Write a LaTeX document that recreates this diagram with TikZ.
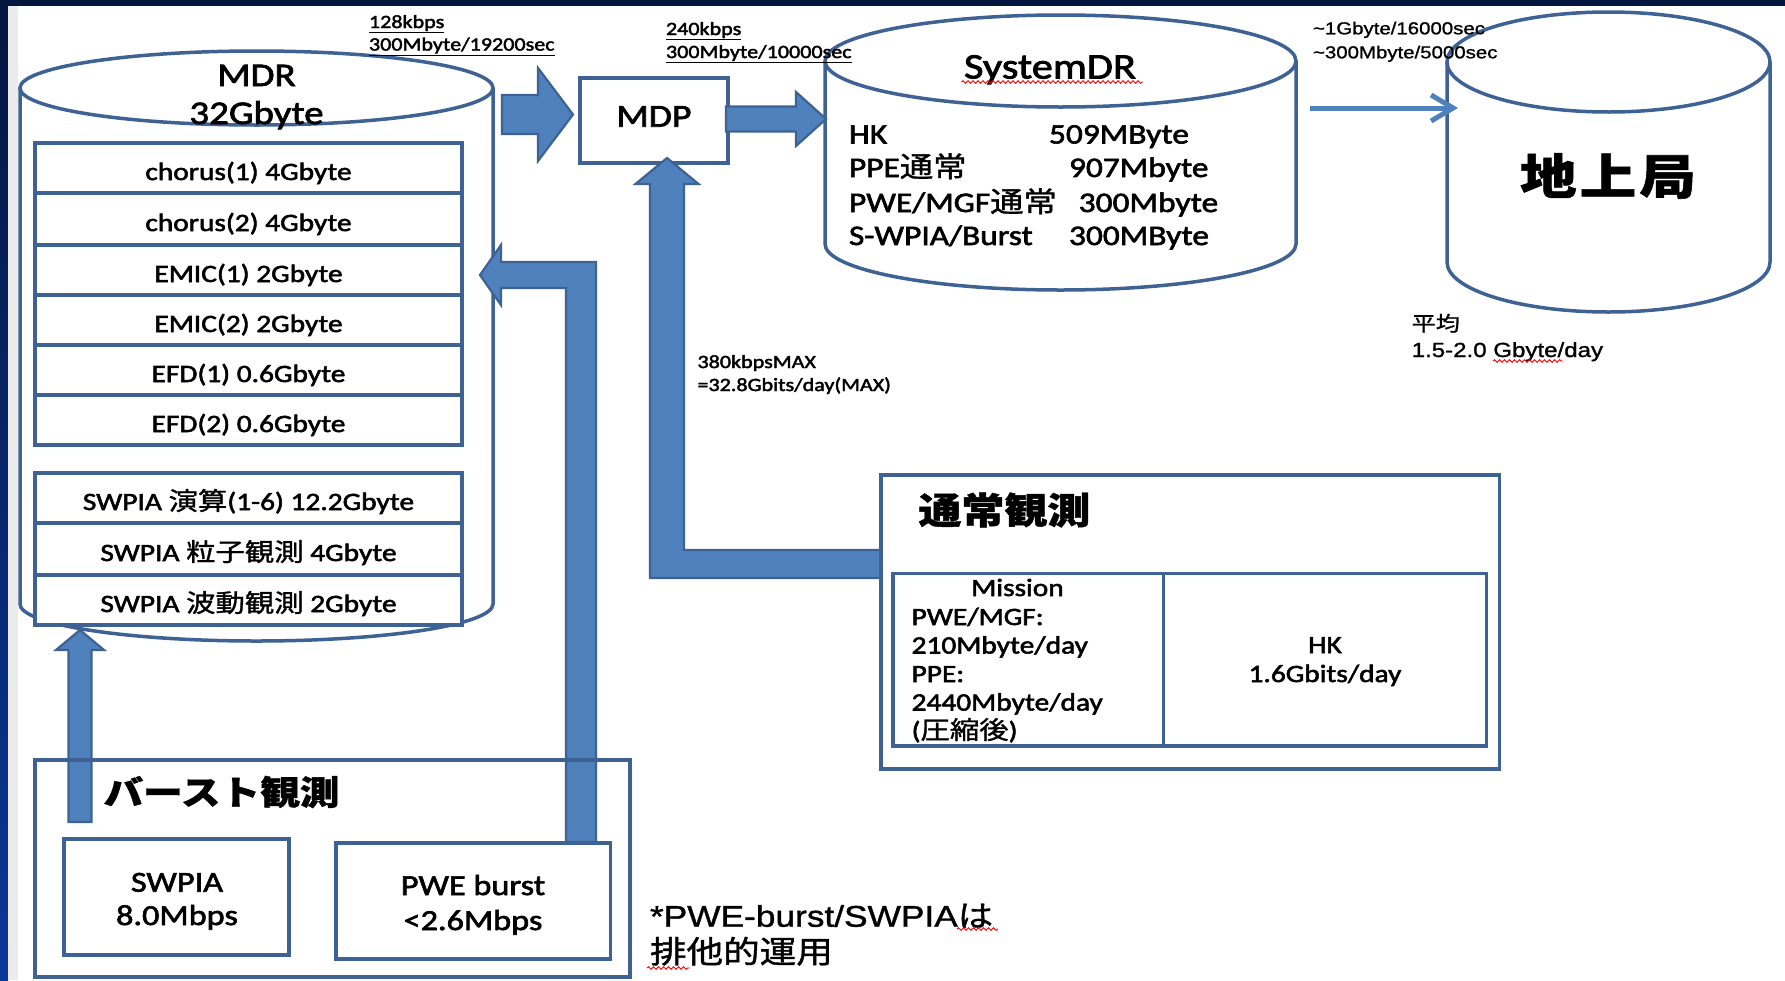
\documentclass[tikz,border=0pt]{standalone}
\usepackage{fontspec}
\setmainfont[FakeStretch=1.18, RawFeature={embolden=2.2}]{Carlito}
\newfontfamily\jp[FakeStretch=1.18, RawFeature={embolden=1.2}]{Noto Sans CJK JP}
\newfontfamily\ls[FakeStretch=1.18, RawFeature={embolden=1.2}]{Liberation Sans}
\usetikzlibrary{calc,arrows.meta,decorations.pathmorphing}
\definecolor{ln}{HTML}{3D6293}
\definecolor{af}{HTML}{4F81BD}
\definecolor{navy}{HTML}{03163F}
\definecolor{lblue}{HTML}{0B3798}
\definecolor{edgegray}{HTML}{EBEBEB}
\newcommand\fz[1]{\fontsize{#1}{#1}\selectfont}
\begin{document}
\begin{tikzpicture}[x=1pt,y=-1pt,
  cyl/.style={draw=ln, line width=3.5pt},
  box/.style={draw=ln, line width=3.5pt, fill=white, inner sep=0pt, outer sep=0pt},
  barrow/.style={fill=af, draw=ln, line width=2.2pt, line join=miter},
  txt/.style={inner sep=0pt, outer sep=0pt, text=black},
  rowtxt/.style={font=\fz{24.9}, text height=24pt, text depth=0pt},
  squig/.style={draw=red, line width=0.9pt, decorate, decoration={snake, amplitude=1.3pt, segment length=5pt}},
]
\useasboundingbox (0,0) rectangle (1785,980);
% frame
\fill[white] (0,0) rectangle (1785,980);
\fill[navy] (0,0) rectangle (1785,6);
\shade[top color=navy, bottom color=lblue] (0,6) rectangle (8,980);
\fill[edgegray] (8,6) rectangle (18,980);

% MDR cylinder
\draw[cyl] (20,88) -- (20,604) arc[start angle=180, end angle=360, x radius=236.5pt, y radius=37pt] -- (493,88);
\draw[cyl, fill=white] (256.5,88) ellipse [x radius=236.5pt, y radius=37pt];
\node[txt, anchor=base, font=\fz{33}] (mdrname) at (256.5,86) {MDR};
\node[txt, anchor=base, font=\fz{33}] (mdrsize) at (256.5,124) {32Gbyte};

% MDR rows
\node[box, rowtxt, minimum width=427pt, minimum height=50pt] (r1) at (248.5,168) {chorus(1) 4Gbyte};
\node[box, rowtxt, minimum width=427pt, minimum height=51pt] (r2) at (248.5,219) {chorus(2) 4Gbyte};
\node[box, rowtxt, minimum width=427pt, minimum height=50pt] (r3) at (248.5,270) {EMIC(1) 2Gbyte};
\node[box, rowtxt, minimum width=427pt, minimum height=50pt] (r4) at (248.5,320) {EMIC(2) 2Gbyte};
\node[box, rowtxt, minimum width=427pt, minimum height=50pt] (r5) at (248.5,370) {EFD(1) 0.6Gbyte};
\node[box, rowtxt, minimum width=427pt, minimum height=50pt] (r6) at (248.5,420) {EFD(2) 0.6Gbyte};
\node[box, rowtxt, minimum width=427pt, minimum height=50pt] (r7) at (248.5,498) {SWPIA {\jp 演算}(1-6) 12.2Gbyte};
\node[box, rowtxt, minimum width=427pt, minimum height=51pt] (r8) at (248.5,549) {SWPIA {\jp 粒子観測} 4Gbyte};
\node[box, rowtxt, minimum width=427pt, minimum height=50pt] (r9) at (248.5,600) {SWPIA {\jp 波動観測} 2Gbyte};

% SystemDR cylinder
\draw[cyl] (825,61) -- (825,244) arc[start angle=180, end angle=360, x radius=235.5pt, y radius=46pt] -- (1296,61);
\draw[cyl, fill=white] (1060.5,61) ellipse [x radius=235.5pt, y radius=46pt];
\node[txt, anchor=base, font=\fz{36}] (sdrname) at (1050,78.5) {SystemDR};
\node[txt, anchor=base west, font=\fz{28.3}] (sd1a) at (849,143.5) {HK};
\node[txt, anchor=base west, font=\fz{28.3}] (sd1b) at (1049,143.5) {509MByte};
\node[txt, anchor=base west, font=\fz{28.3}] (sd2a) at (849,177) {PPE{\jp 通常}};
\node[txt, anchor=base west, font=\fz{28.3}] (sd2b) at (1069,177) {907Mbyte};
\node[txt, anchor=base west, font=\fz{28.3}] (sd3a) at (849,212) {PWE/MGF{\jp 通常}};
\node[txt, anchor=base west, font=\fz{28.3}] (sd3b) at (1078.7,212) {300Mbyte};
\node[txt, anchor=base west, font=\fz{28.3}] (sd4a) at (849,245) {S-WPIA/Burst};
\node[txt, anchor=base west, font=\fz{28.3}] (sd4b) at (1069,245) {300MByte};

% ground station cylinder
\draw[cyl] (1447,62) -- (1447,262) arc[start angle=180, end angle=360, x radius=161.5pt, y radius=50pt] -- (1770,62);
\draw[cyl, fill=white] (1608.5,62) ellipse [x radius=161.5pt, y radius=50pt];
\node[txt, font={\jp\bfseries\fz{48}}] (gs) at (1608,176) {地\kern3pt 上\kern3pt 局};

% MDP box
\node[box, font=\fz{32}, text height=12.4pt, text depth=0pt, minimum width=148pt, minimum height=85pt] (mdp) at (654,120.5) {MDP};

% burst box (fill)
\node[box, minimum width=595pt, minimum height=217pt] (burst) at (332.5,868.5) {};

% block arrows
\coordinate (a1s) at (502,114.5);
\draw[barrow] (a1s) ++(0,-19.5) -- ++(36,0) -- ++(0,-27) -- ++(35,46.5) -- ++(-35,46.5) -- ++(0,-27) -- ++(-36,0) -- cycle;
\coordinate (a2s) at (726,119);
\draw[barrow] (a2s) ++(0,-12.5) -- ++(70,0) -- ++(0,-14.5) -- ++(30,27) -- ++(-30,27) -- ++(0,-14.5) -- ++(-70,0) -- cycle;
\coordinate (a3s) at (881,564);
\draw[barrow] (a3s) ++(0,-14) -- ++(-197,0) -- ++(0,-366) -- ++(14.5,0) -- ++(-31.5,-26) -- ++(-31.5,26) -- ++(14.5,0) -- ++(0,394) -- ++(231,0) -- cycle;
\coordinate (a4s) at (581,842);
\draw[barrow] (a4s) ++(15,0) -- ++(0,-580) -- ++(-95,0) -- ++(0,-17) -- ++(-21,30) -- ++(21,30) -- ++(0,-17) -- ++(65,0) -- ++(0,554) -- cycle;
\coordinate (a5s) at (80,822);
\draw[barrow] (a5s) ++(-11.5,0) -- ++(0,-172) -- ++(-12.5,0) -- ++(24,-20) -- ++(24,20) -- ++(-12.5,0) -- ++(0,172) -- cycle;

% thin arrow SystemDR -> ground
\coordinate (sdrout) at (1310,108);
\coordinate (gsin) at (1458,108);
\draw[af, line width=5pt, -{Straight Barb[length=22pt, width=26pt]}] (sdrout) -- (gsin);

% burst box outline over arrows
\draw[ln, line width=3.5pt] (burst.north west) rectangle (burst.south east);
\node[txt, anchor=west, font={\jp\bfseries\fz{33.6}}] (bursttitle) at (103.6,792) {バースト観測};
\node[box, minimum width=225pt, minimum height=116pt] (swpia) at (176.5,897) {};
\node[box, minimum width=274.5pt, minimum height=116pt] (pweb) at (473,901) {};
\node[txt, anchor=base, font=\fz{29}] (swpia1) at (177,891.7) {SWPIA};
\node[txt, anchor=base, font=\fz{29}] (swpia2) at (177,925) {8.0Mbps};
\node[txt, anchor=base, font=\fz{29}] (pweb1) at (473,895) {PWE burst};
\node[txt, anchor=base, font=\fz{29}] (pweb2) at (473,930) {<2.6Mbps};

% normal observation box
\node[box, minimum width=618.5pt, minimum height=294pt] (tsu) at (1190.25,622) {};
\node[txt, anchor=west, font={\jp\bfseries\fz{36.4}}] (tsutitle) at (918.5,510) {通常観測};
\node[box, minimum width=270.5pt, minimum height=172.5pt] (mission) at (1028.25,659.75) {};
\node[box, minimum width=323pt, minimum height=172.5pt] (hkbox) at (1325,659.75) {};
\node[txt, anchor=base, font=\fz{24.9}] (m0) at (1017.5,596) {Mission};
\node[txt, anchor=base west, font=\fz{24.9}] (m1) at (911.6,625) {PWE/MGF:};
\node[txt, anchor=base west, font=\fz{24.9}] (m2) at (911.6,653.5) {210Mbyte/day};
\node[txt, anchor=base west, font=\fz{24.9}] (m3) at (911.6,682) {PPE:};
\node[txt, anchor=base west, font=\fz{24.9}] (m4) at (911.6,710.5) {2440Mbyte/day};
\node[txt, anchor=base west, font=\fz{24.9}] (m5) at (911.6,739) {({\jp 圧縮後})};
\node[txt, anchor=base, font=\fz{24.9}] (hk1) at (1325,653) {HK};
\node[txt, anchor=base, font=\fz{24.9}] (hk2) at (1325,682) {1.6Gbits/day};

% labels
\node[txt, anchor=base west, font=\fz{18.7}] (l1a) at (369,28) {\underline{128kbps}};
\node[txt, anchor=base west, font=\fz{18.7}] (l1b) at (369,50.5) {\underline{300Mbyte/19200sec}};
\node[txt, anchor=base west, font=\fz{18.7}] (l2a) at (666,35) {\underline{240kbps}};
\node[txt, anchor=base west, font=\fz{18.7}] (l2b) at (666,58) {\underline{300Mbyte/10000sec}};
\node[txt, anchor=base west, font={\ls\fz{17.3}}] (l3a) at (1313,34.3) {\textasciitilde1Gbyte/16000sec};
\node[txt, anchor=base west, font={\ls\fz{17.3}}] (l3b) at (1313,58.3) {\textasciitilde300Mbyte/5000sec};
\node[txt, anchor=base west, font=\fz{18.7}] (mx1) at (697.5,368) {380kbpsMAX};
\node[txt, anchor=base west, font=\fz{18.7}] (mx2) at (697.5,391) {=32.8Gbits/day(MAX)};
\node[txt, anchor=base west, font={\jp\fz{20.4}}] (avg1) at (1411.7,331) {平均};
\node[txt, anchor=base west, font={\ls\fz{20.4}}] (avg2) at (1411.7,357) {1.5-2.0 Gbyte/day};
\node[txt, anchor=base west, font={\ls\fz{29.9}}] (note1) at (650,926.7) {*PWE-burst/SWPIA{\jp は}};
\node[txt, anchor=base west, font={\jp\fz{31}}] (note2) at (650,963) {排他的運用};

% spell-check squiggles
\draw[squig] (961.5,82) -- (1143,82);
\draw[squig] (1493,361) -- (1563,361);
\draw[squig] (957,929) -- (998,929);
\draw[squig] (647,968) -- (690,968);
\end{tikzpicture}
\end{document}
